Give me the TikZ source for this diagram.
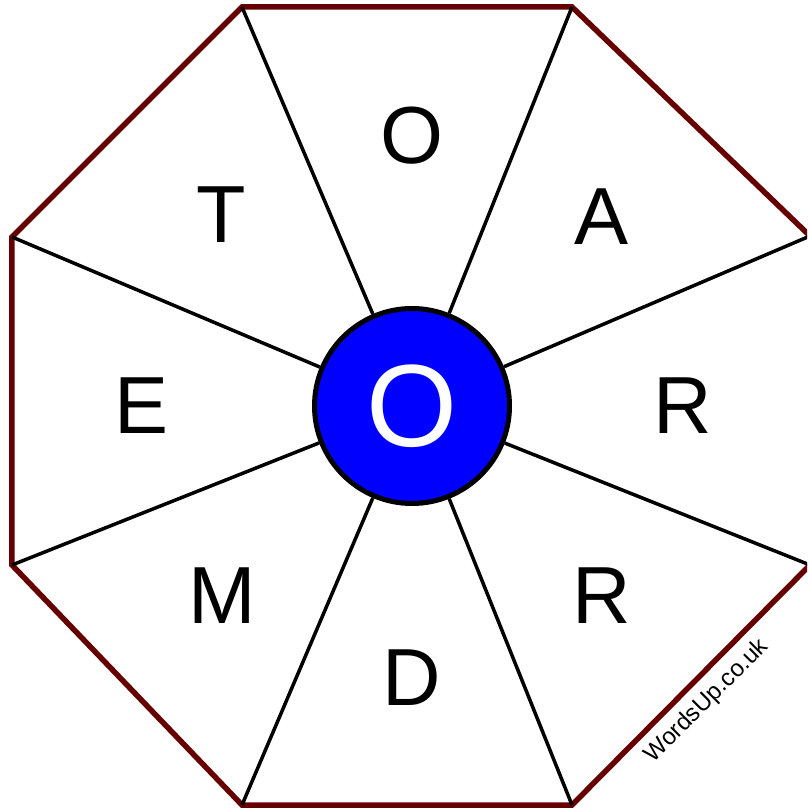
\documentclass[tikz,border=0pt]{standalone}
\usepackage{fontspec}
\setmainfont{Liberation Sans}
\usetikzlibrary{calc}
\definecolor{rimred}{RGB}{102,0,0}
\definecolor{hubblue}{RGB}{0,0,255}

\begin{document}
\begin{tikzpicture}[
    x=1pt, y=1pt,
    rim/.style={draw=rimred, line width=5.5pt, line join=miter},
    spoke/.style={draw=black, line width=3.5pt},
    hub/.style={circle, draw=black, fill=hubblue, line width=5pt,
                minimum size=195pt, inner sep=0pt, text=white,
                font=\fontsize{117}{117}\selectfont},
    letter/.style={inner sep=0pt, font=\fontsize{81}{81}\selectfont}
]
\useasboundingbox (-412,-404) rectangle (395,406);
\clip (-412,-404) rectangle (395,406);

% Corners
\coordinate (v1) at (398,170);
\coordinate (v2) at (160,399);
\coordinate (v3) at (-170,399);
\coordinate (v4) at (-400,169);
\coordinate (v5) at (-400,-159);
\coordinate (v6) at (-170,-399);
\coordinate (v7) at (160,-399);
\coordinate (v8) at (398,-159);

% Outline
\draw[rim] (v1) -- (v2) -- (v3) -- (v4) -- (v5) -- (v6) -- (v7) -- (v8) -- cycle;

% Centre
\node[hub] (centre) at (0,0) {O};

% Spokes
\draw[spoke] (centre) -- (v1);
\draw[spoke] (centre) -- (v2);
\draw[spoke] (centre) -- (v3);
\draw[spoke] (centre) -- (v4);
\draw[spoke] (centre) -- (v5);
\draw[spoke] (centre) -- (v6);
\draw[spoke] (centre) -- (v7);
\draw[spoke] (centre) -- (v8);

% Letters
\node[letter] (north) at (90:270) {O};
\node[letter] (northeast) at (45:268) {A};
\node[letter] (east) at (0:271) {R};
\node[letter] (southeast) at (-45:268) {R};
\node[letter] (south) at (-90:272) {D};
\node[letter] (southwest) at (-135:268) {M};
\node[letter] (west) at (180:270) {E};
\node[letter] (northwest) at (135:270) {T};

% Credit
\node[font=\fontsize{24}{24}\selectfont, rotate=45, inner sep=0pt]
    (credit) at (295,-295) {WordsUp.co.uk};

\end{tikzpicture}
\end{document}
